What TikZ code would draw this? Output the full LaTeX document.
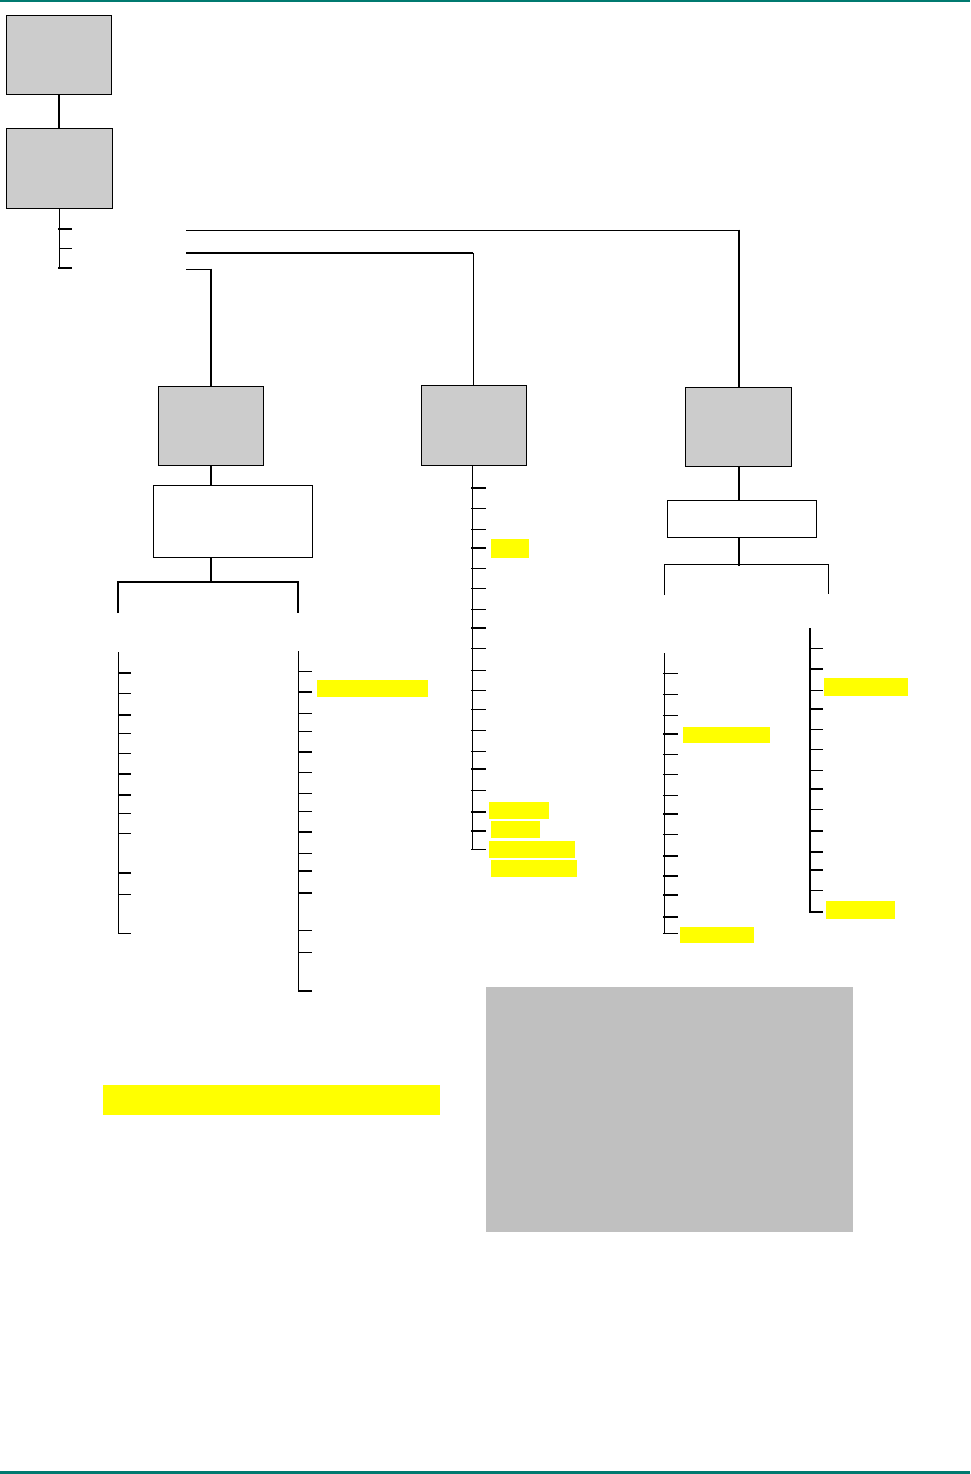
\documentclass[tikz,border=0pt]{standalone}
\definecolor{teal1}{HTML}{007A70}
\definecolor{boxgrey}{HTML}{CCCCCC}
\definecolor{notegrey}{HTML}{C0C0C0}
\definecolor{hilite}{HTML}{FFFF00}
\tikzset{
  gbox/.style={draw=black, line width=1pt, fill=boxgrey, inner sep=0pt, outer sep=0pt, anchor=north west},
  wbox/.style={draw=black, line width=1pt, fill=white, inner sep=0pt, outer sep=0pt, anchor=north west},
  hl/.style={fill=hilite, draw=none, inner sep=0pt, outer sep=0pt, anchor=north west},
  thinln/.style={line width=1pt},
  thickln/.style={line width=2pt},
}
\begin{document}
\begin{tikzpicture}[x=1pt,y=-1pt]
\useasboundingbox (0,0) rectangle (970,1474);
% frame lines
\fill[teal1] (0,0) rectangle (970,2);
\fill[teal1] (0,1471) rectangle (970,1474);
% top boxes
\node[gbox, minimum width=105, minimum height=79] (a) at (6,16) {};
\node[gbox, minimum width=106, minimum height=79] (b) at (6,129) {};
\draw[thickln] (a.south -| 59,0) -- (b.north -| 59,0);
% branch from b
\coordinate (bs) at (59,208);
\draw[thinln] (bs) -- (59,268);
\draw[thickln] (58,229) -- (72,229);
\draw[thinln] (59,248) -- (72,248);
\draw[thickln] (58,268) -- (72,268);
% second-level boxes
\node[gbox, minimum width=105, minimum height=79] (c) at (158,386) {};
\node[gbox, minimum width=105, minimum height=80] (d) at (421,385) {};
\node[gbox, minimum width=106, minimum height=79] (e) at (685,387) {};
\coordinate (c1) at (186,230);
\coordinate (c2) at (186,253);
\coordinate (c3) at (186,269);
\draw[thinln] (c1) -- (739,230);
\draw[thickln] (739,229.5) -- (e.north -| 739,0);
\draw[thickln] (c2) -- (473,253);
\draw[thinln] (473,253) -- (d.north -| 473,0);
\draw[thinln] (c3) -- (211,269);
\draw[thickln] (211,268.5) -- (c.north -| 211,0);
% left subtree
\node[wbox, minimum width=159, minimum height=72] (cw) at (153,485) {};
\draw[thickln] (c.south -| 211,0) -- (cw.north -| 211,0);
\draw[thickln] (cw.south -| 211,0) -- (211,582);
\draw[thickln] (118,613) -- (118,582) -- (298,582) -- (298,613);
% left list
\draw[thinln] (118,652) -- (118,933.5);
\foreach \yy/\ww in {673/2,693/1,715/2,733/1,753/1,774/2,795/2,813/1,833/1,873/2,894/1,933/1}
  \draw[line width=\ww pt] (118,\yy) -- (131,\yy);
% right list of left subtree
\draw[thinln] (298,651) -- (298,991);
\foreach \yy/\ww in {671/1,692/2,713/1,731/1,752/2,772/1,793/1,811/1,832/2,853/1,871/2,893/2,930/1,952/1,991/2}
  \draw[line width=\ww pt] (298,\yy) -- (312,\yy);
\node[hl, minimum width=111, minimum height=17] (h1) at (317,680) {};
% middle list
\draw[thinln] (472,465) -- (472,849);
\foreach \yy/\ww in {488/2,508/1,529/1,548/2,568/1,588/1,609/1,628/2,648/1,670/1,690/1,709/1,730/1,751/1,769/2,790/1,812/2,831/2,849/1}
  \draw[line width=\ww pt] (471,\yy) -- (486,\yy);
\node[hl, minimum width=38, minimum height=19] (h2) at (491,539) {};
\node[hl, minimum width=60, minimum height=17] (h3) at (489,802) {};
\node[hl, minimum width=49, minimum height=17] (h4) at (491,821) {};
\node[hl, minimum width=86, minimum height=17] (h5) at (489,841) {};
\node[hl, minimum width=86, minimum height=17] (h6) at (491,860) {};
% right subtree
\node[wbox, minimum width=149, minimum height=37] (ew) at (667,500) {};
\draw[thickln] (e.south -| 739,0) -- (ew.north -| 739,0);
\draw[thickln] (ew.south -| 739,0) -- (739,566);
\draw[thinln] (664,595) -- (664,564) -- (828,564) -- (828,594);
% lower-left list of right subtree
\draw[thinln] (664,653) -- (664,933);
\foreach \yy/\ww in {673/1,694/1,715/1,734/2,754/1,774/1,795/1,814/2,834/1,856/2,876/2,895/2,917/2,933/1}
  \draw[line width=\ww pt] (663,\yy) -- (678,\yy);
\node[hl, minimum width=87, minimum height=16] (h7) at (683,727) {};
\node[hl, minimum width=74, minimum height=16] (h8) at (680,927) {};
% lower-right list of right subtree
\draw[line width=2.5pt] (810,628) -- (810,913);
\foreach \yy/\ww in {648/1,669/2,690/1,709/2,729/1,749/1,770/1,789/2,809/1,831/2,852/2,870/2,890/1,912/2}
  \draw[line width=\ww pt] (810,\yy) -- (823,\yy);
\node[hl, minimum width=84, minimum height=18] (h9) at (824,678) {};
\node[hl, minimum width=69, minimum height=18] (h10) at (826,901) {};
% bottom elements
\node[hl, minimum width=337, minimum height=30] (h11) at (103,1085) {};
\node[fill=notegrey, draw=none, inner sep=0pt, outer sep=0pt, anchor=north west, minimum width=367, minimum height=245] (note) at (486,987) {};
\end{tikzpicture}
\end{document}
